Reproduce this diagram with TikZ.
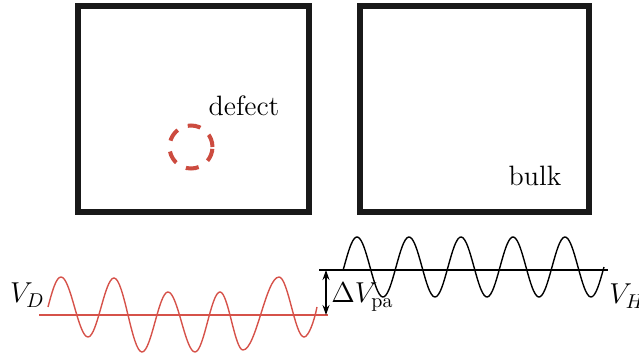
\documentclass[tikz,border=0pt]{standalone}
\usepackage{amsmath,amssymb}
\usepackage{xcolor}
\usepackage{tikz}
\usetikzlibrary{arrows.meta}
\definecolor{defred}{HTML}{CC4B3F}
\definecolor{wavered}{HTML}{D6524A}

\begin{document}
\begin{tikzpicture}[
      x=0.5pt, y=-0.5pt,
      font=\fontsize{14}{16}\selectfont,
      cell/.style={draw=black!90, line width=3.25pt},
      defring/.style={draw=defred, line width=2pt, dash pattern=on 6.5pt off 5.5pt},
      redwave/.style={draw=wavered, line width=0.7pt},
      blackwave/.style={draw=black, line width=0.7pt},
      lbl/.style={font=\fontsize{14.4}{17}\selectfont, inner sep=0pt},
      arr/.style={{Stealth[length=5pt,width=3.5pt]}-{Stealth[length=5pt,width=3.5pt]}, line width=0.6pt}]
    \useasboundingbox (0,0) rectangle (639,358);
    % two cells
    \draw[cell] (78,6) rectangle (309,212);
    \draw[cell] (360,6) rectangle (589,212);
    \draw[defring] (191,147) circle[radius=10.75pt];
    \node (def) at (244,106) {defect};
    \node (blk) at (535,176) {bulk};
    % potential levels
    \draw[redwave] (39,315) -- (328,315);
    \draw[blackwave] (319,270) -- (608,270);
    \draw[redwave] (48,307) .. controls (52,292) and (56,277) .. (61,277)
      \foreach \xa/\ya/\xb/\yb in {61/277/88/337, 88/337/114/278, 114/278/142/352,
          142/352/168/292, 168/292/195/352, 195/352/220/292, 220/292/243/350,
          243/350/279/277, 279/277/304/337}
        { .. controls ({\xa+0.36*(\xb-\xa)},\ya) and ({\xb-0.36*(\xb-\xa)},\yb) .. (\xb,\yb) }
      .. controls (308.5,337) and (314,322) .. (317,307);
    \draw[blackwave] plot[domain=343:604, samples=160, smooth] (\x, {267-30*cos(6.923*(\x-357))});
    % offset between the levels
    \coordinate (hlev) at (326,270);
    \coordinate (dlev) at (326,315);
    \draw[arr] (hlev) -- (dlev);
    \node[lbl, anchor=base east] (vd) at (45,303) {$V_D$};
    \node[lbl, anchor=base west] (dv) at (331,303) {$\Delta V_{\mathrm{pa}}$};
    \node[lbl, anchor=base west] (vh) at (609,304) {$V_H$};
  \end{tikzpicture}
\end{document}
